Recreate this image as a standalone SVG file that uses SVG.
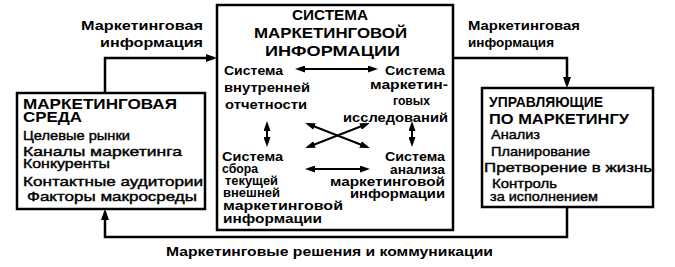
<svg xmlns="http://www.w3.org/2000/svg" width="675" height="267" viewBox="0 0 675 267">
<style>
.box{fill:#fff;stroke:#000;stroke-width:2.5}
.b{font-family:"Liberation Sans",Arial,sans-serif;font-weight:bold;fill:#000}
.n{font-family:"Liberation Sans",Arial,sans-serif;font-weight:normal;fill:#000;stroke:#000;stroke-width:0.4}
.con{fill:none;stroke:#000;stroke-width:2.5}
.ia{fill:none;stroke:#000;stroke-width:2}
</style>
<defs>
<marker id="ah" markerUnits="userSpaceOnUse" markerWidth="11" markerHeight="8" refX="8" refY="4" orient="auto-start-reverse"><path d="M0,0 L11,4 L0,8 z" fill="#000"/></marker>
<marker id="ai" markerUnits="userSpaceOnUse" markerWidth="10" markerHeight="7" refX="7" refY="3.5" orient="auto-start-reverse"><path d="M0,0 L10,3.5 L0,7 z" fill="#000"/></marker>
</defs>
<rect width="675" height="267" fill="#fff"/>
<g id="connectors">
<path class="con" d="M105,93 V58 H214" marker-end="url(#ah)"/>
<path class="con" d="M453,58 H567 V85" marker-end="url(#ah)"/>
<path class="con" d="M567,207 V237 H105 V212" marker-end="url(#ah)"/>
<text class="b" font-size="13" x="81" y="30" textLength="122" lengthAdjust="spacingAndGlyphs">Маркетинговая</text>
<text class="b" font-size="13" x="100" y="47" textLength="103" lengthAdjust="spacingAndGlyphs">информация</text>
<text class="b" font-size="13" x="468" y="30" textLength="112" lengthAdjust="spacingAndGlyphs">Маркетинговая</text>
<text class="b" font-size="13" x="468" y="47" textLength="86" lengthAdjust="spacingAndGlyphs">информация</text>
<text class="b" font-size="13" x="166" y="256" textLength="327" lengthAdjust="spacingAndGlyphs">Маркетинговые решения и коммуникации</text>
</g>
<g id="mis">
<rect class="box" x="217" y="5" width="236" height="225"/>
<text class="b" font-size="14" x="292" y="20" textLength="76" lengthAdjust="spacingAndGlyphs">СИСТЕМА</text>
<text class="b" font-size="14" x="254" y="38" textLength="153" lengthAdjust="spacingAndGlyphs">МАРКЕТИНГОВОЙ</text>
<text class="b" font-size="14" x="265" y="56" textLength="135" lengthAdjust="spacingAndGlyphs">ИНФОРМАЦИИ</text>
<g id="internal">
<text class="b" font-size="12.5" x="224" y="75" textLength="59" lengthAdjust="spacingAndGlyphs">Система</text>
<text class="b" font-size="12.5" x="224" y="92" textLength="86" lengthAdjust="spacingAndGlyphs">внутренней</text>
<text class="b" font-size="12.5" x="225" y="109" textLength="82" lengthAdjust="spacingAndGlyphs">отчетности</text>
</g>
<g id="research">
<text class="b" font-size="12.5" x="385" y="75" textLength="60" lengthAdjust="spacingAndGlyphs">Система</text>
<text class="b" font-size="12.5" x="370" y="89" textLength="78" lengthAdjust="spacingAndGlyphs">маркетин-</text>
<text class="b" font-size="12.5" x="393" y="105" textLength="37" lengthAdjust="spacingAndGlyphs">говых</text>
<text class="b" font-size="12.5" x="343" y="122" textLength="105" lengthAdjust="spacingAndGlyphs">исследований</text>
</g>
<g id="intelligence">
<text class="b" font-size="12.5" x="222" y="161" textLength="61" lengthAdjust="spacingAndGlyphs">Система</text>
<text class="b" font-size="12.5" x="222" y="173" textLength="36" lengthAdjust="spacingAndGlyphs">сбора</text>
<text class="b" font-size="12.5" x="225" y="185" textLength="53" lengthAdjust="spacingAndGlyphs">текущей</text>
<text class="b" font-size="12.5" x="223" y="197" textLength="57" lengthAdjust="spacingAndGlyphs">внешней</text>
<text class="b" font-size="12.5" x="223" y="210" textLength="120" lengthAdjust="spacingAndGlyphs">маркетинговой</text>
<text class="b" font-size="12.5" x="223" y="223" textLength="99" lengthAdjust="spacingAndGlyphs">информации</text>
</g>
<g id="analysis">
<text class="b" font-size="12.5" x="385" y="161" textLength="60" lengthAdjust="spacingAndGlyphs">Система</text>
<text class="b" font-size="12.5" x="390" y="174" textLength="55" lengthAdjust="spacingAndGlyphs">анализа</text>
<text class="b" font-size="12.5" x="330" y="186" textLength="115" lengthAdjust="spacingAndGlyphs">маркетинговой</text>
<text class="b" font-size="12.5" x="350" y="198" textLength="95" lengthAdjust="spacingAndGlyphs">информации</text>
</g>
<g id="inner-arrows">
<line class="ia" x1="298" y1="69" x2="375" y2="69" marker-start="url(#ai)" marker-end="url(#ai)"/>
<line class="ia" x1="267" y1="124" x2="267" y2="144" marker-start="url(#ai)" marker-end="url(#ai)"/>
<line class="ia" x1="412" y1="124" x2="412" y2="144" marker-start="url(#ai)" marker-end="url(#ai)"/>
<line class="ia" x1="308" y1="124" x2="367" y2="147" marker-start="url(#ai)" marker-end="url(#ai)"/>
<line class="ia" x1="367" y1="124" x2="308" y2="147" marker-start="url(#ai)" marker-end="url(#ai)"/>
<line class="ia" x1="308" y1="169" x2="367" y2="169" marker-start="url(#ai)" marker-end="url(#ai)"/>
</g>
</g>
<g id="environment">
<rect class="box" x="17" y="93" width="188" height="116"/>
<text class="b" font-size="14" x="23" y="109" textLength="154" lengthAdjust="spacingAndGlyphs">МАРКЕТИНГОВАЯ</text>
<text class="b" font-size="14" x="23" y="122" textLength="59" lengthAdjust="spacingAndGlyphs">СРЕДА</text>
<text class="n" font-size="13" x="23" y="140" textLength="107" lengthAdjust="spacingAndGlyphs">Целевые рынки</text>
<text class="n" font-size="13" x="23" y="156" textLength="159" lengthAdjust="spacingAndGlyphs">Каналы маркетинга</text>
<text class="n" font-size="13" x="23" y="168" textLength="87" lengthAdjust="spacingAndGlyphs">Конкуренты</text>
<text class="n" font-size="13" x="23" y="186" textLength="180" lengthAdjust="spacingAndGlyphs">Контактные аудитории</text>
<text class="n" font-size="13" x="27" y="201" textLength="170" lengthAdjust="spacingAndGlyphs">Факторы макросреды</text>
</g>
<g id="managers">
<rect class="box" x="482" y="88" width="171" height="119"/>
<text class="b" font-size="14" x="489" y="107" textLength="114" lengthAdjust="spacingAndGlyphs">УПРАВЛЯЮЩИЕ</text>
<text class="b" font-size="14" x="489" y="124" textLength="140" lengthAdjust="spacingAndGlyphs">ПО МАРКЕТИНГУ</text>
<text class="n" font-size="13" x="491" y="139" textLength="49" lengthAdjust="spacingAndGlyphs">Анализ</text>
<text class="n" font-size="13" x="491" y="156" textLength="99" lengthAdjust="spacingAndGlyphs">Планирование</text>
<text class="n" font-size="13" x="484" y="172" textLength="168" lengthAdjust="spacingAndGlyphs">Претворение в жизнь</text>
<text class="n" font-size="13" x="492" y="188" textLength="65" lengthAdjust="spacingAndGlyphs">Контроль</text>
<text class="n" font-size="13" x="490" y="201" textLength="108" lengthAdjust="spacingAndGlyphs">за исполнением</text>
</g>
</svg>
